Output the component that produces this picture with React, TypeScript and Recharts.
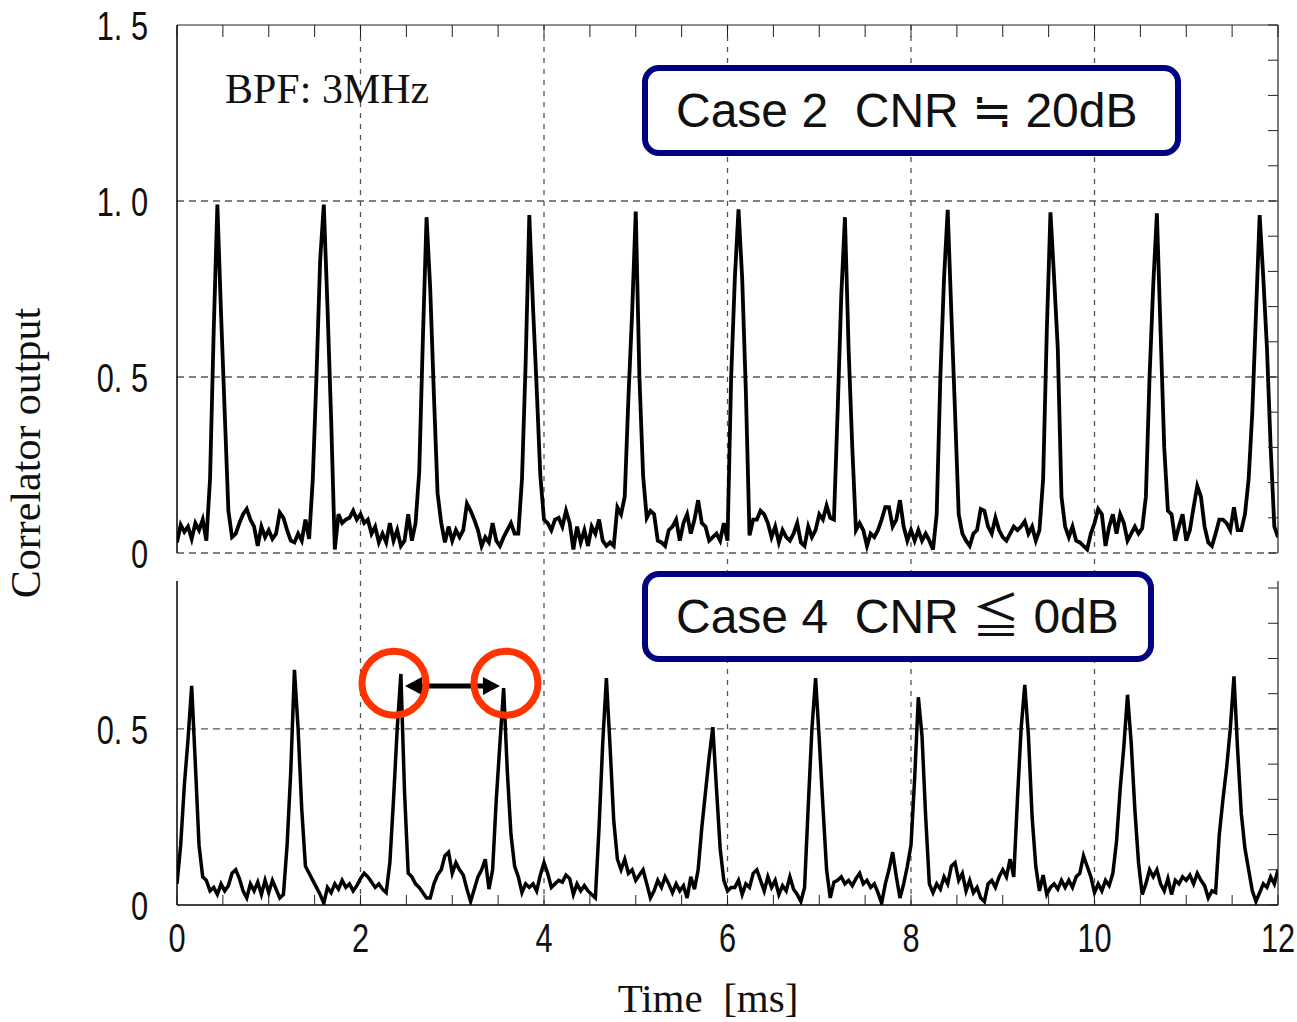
import React from "react";
import { LineChart, Line, XAxis, YAxis, ReferenceLine, ReferenceDot } from "recharts";

// sampling interval of the correlator trace
const SAMPLE_MS = 0.04;

// Case 2 (CNR ~ 20dB), one row per ms
const case2Output = [
  0.03, 0.08, 0.06, 0.075, 0.04, 0.085, 0.065, 0.095, 0.035, 0.21, 0.63, 0.99, 0.68, 0.40, 0.12, 0.045, 0.055, 0.085, 0.11, 0.125, 0.095, 0.075, 0.02, 0.075, 0.045,
  0.065, 0.04, 0.055, 0.115, 0.10, 0.065, 0.035, 0.03, 0.055, 0.035, 0.095, 0.04, 0.21, 0.5, 0.83, 0.99, 0.70, 0.38, 0.01, 0.11, 0.085, 0.095, 0.10, 0.12, 0.095,
  0.11, 0.085, 0.095, 0.055, 0.075, 0.03, 0.055, 0.03, 0.085, 0.035, 0.065, 0.02, 0.035, 0.11, 0.035, 0.085, 0.23, 0.61, 0.954, 0.75, 0.45, 0.17, 0.085, 0.03, 0.075,
  0.035, 0.065, 0.045, 0.065, 0.14, 0.12, 0.095, 0.065, 0.02, 0.045, 0.03, 0.085, 0.035, 0.02, 0.045, 0.065, 0.085, 0.055, 0.055, 0.21, 0.54, 0.96, 0.70, 0.47, 0.22,
  0.095, 0.085, 0.065, 0.095, 0.10, 0.075, 0.12, 0.085, 0.01, 0.075, 0.03, 0.065, 0.02, 0.075, 0.055, 0.095, 0.035, 0.02, 0.03, 0.02, 0.13, 0.11, 0.16, 0.44, 0.68,
  0.97, 0.5, 0.22, 0.10, 0.12, 0.11, 0.035, 0.03, 0.02, 0.065, 0.075, 0.095, 0.035, 0.085, 0.11, 0.055, 0.095, 0.15, 0.085, 0.075, 0.035, 0.045, 0.055, 0.035, 0.085,
  0.035, 0.50, 0.78, 0.976, 0.78, 0.46, 0.05, 0.095, 0.095, 0.12, 0.11, 0.085, 0.045, 0.075, 0.03, 0.065, 0.045, 0.035, 0.055, 0.085, 0.03, 0.02, 0.075, 0.045, 0.065,
  0.11, 0.095, 0.135, 0.10, 0.095, 0.40, 0.73, 0.954, 0.58, 0.30, 0.065, 0.085, 0.065, 0.02, 0.055, 0.045, 0.065, 0.095, 0.13, 0.13, 0.075, 0.095, 0.15, 0.075, 0.035,
  0.065, 0.035, 0.065, 0.035, 0.055, 0.035, 0.01, 0.11, 0.50, 0.78, 0.975, 0.68, 0.40, 0.11, 0.055, 0.035, 0.02, 0.055, 0.065, 0.125, 0.12, 0.075, 0.055, 0.10, 0.065,
  0.045, 0.035, 0.055, 0.075, 0.065, 0.075, 0.09, 0.055, 0.075, 0.035, 0.065, 0.21, 0.63, 0.968, 0.78, 0.58, 0.16, 0.075, 0.045, 0.075, 0.035, 0.03, 0.02, 0.01, 0.055,
  0.085, 0.125, 0.11, 0.02, 0.075, 0.11, 0.055, 0.11, 0.085, 0.035, 0.055, 0.075, 0.055, 0.07, 0.16, 0.50, 0.76, 0.965, 0.63, 0.30, 0.12, 0.11, 0.035, 0.075, 0.11,
  0.035, 0.065, 0.13, 0.19, 0.16, 0.075, 0.03, 0.02, 0.055, 0.095, 0.095, 0.085, 0.065, 0.13, 0.065, 0.065, 0.11, 0.21, 0.40, 0.68, 0.96, 0.78, 0.58, 0.30, 0.075,
  0.045,
];

// Case 4 (CNR <= 0dB)
const case4Output = [
  0.06, 0.17, 0.34, 0.47, 0.622, 0.40, 0.17, 0.08, 0.07, 0.04, 0.05, 0.03, 0.06, 0.04, 0.055, 0.09, 0.10, 0.075, 0.04, 0.02, 0.06, 0.04, 0.065, 0.03, 0.07,
  0.035, 0.07, 0.045, 0.02, 0.03, 0.17, 0.38, 0.668, 0.50, 0.27, 0.11, 0.09, 0.07, 0.05, 0.03, 0.005, 0.05, 0.035, 0.06, 0.045, 0.07, 0.05, 0.06, 0.04, 0.055,
  0.075, 0.09, 0.08, 0.065, 0.05, 0.06, 0.045, 0.035, 0.12, 0.30, 0.50, 0.656, 0.32, 0.09, 0.08, 0.06, 0.05, 0.035, 0.02, 0.02, 0.06, 0.085, 0.10, 0.14, 0.15,
  0.09, 0.12, 0.10, 0.085, 0.045, 0.01, 0.045, 0.08, 0.10, 0.13, 0.045, 0.10, 0.30, 0.46, 0.616, 0.38, 0.20, 0.11, 0.08, 0.035, 0.06, 0.05, 0.06, 0.04, 0.085,
  0.12, 0.09, 0.05, 0.06, 0.07, 0.065, 0.085, 0.075, 0.03, 0.06, 0.04, 0.055, 0.04, 0.03, 0.02, 0.22, 0.46, 0.644, 0.45, 0.24, 0.13, 0.10, 0.13, 0.09, 0.10,
  0.07, 0.085, 0.10, 0.06, 0.02, 0.04, 0.07, 0.05, 0.08, 0.06, 0.035, 0.06, 0.04, 0.055, 0.02, 0.08, 0.045, 0.10, 0.22, 0.32, 0.42, 0.505, 0.33, 0.16, 0.07,
  0.04, 0.05, 0.05, 0.07, 0.03, 0.06, 0.05, 0.09, 0.10, 0.07, 0.04, 0.08, 0.05, 0.07, 0.03, 0.055, 0.04, 0.08, 0.045, 0.03, 0.01, 0.05, 0.28, 0.50, 0.644,
  0.47, 0.28, 0.10, 0.02, 0.065, 0.07, 0.08, 0.06, 0.07, 0.055, 0.075, 0.09, 0.06, 0.07, 0.05, 0.06, 0.035, 0.005, 0.06, 0.10, 0.15, 0.08, 0.02, 0.06, 0.11,
  0.17, 0.36, 0.59, 0.48, 0.25, 0.06, 0.035, 0.06, 0.045, 0.08, 0.06, 0.11, 0.12, 0.07, 0.09, 0.04, 0.07, 0.035, 0.05, 0.02, 0.01, 0.06, 0.07, 0.05, 0.08,
  0.10, 0.08, 0.13, 0.08, 0.30, 0.50, 0.625, 0.48, 0.25, 0.11, 0.04, 0.085, 0.03, 0.05, 0.06, 0.045, 0.07, 0.05, 0.07, 0.05, 0.08, 0.09, 0.14, 0.11, 0.08,
  0.035, 0.06, 0.04, 0.07, 0.055, 0.09, 0.18, 0.33, 0.45, 0.597, 0.46, 0.27, 0.12, 0.03, 0.06, 0.10, 0.08, 0.10, 0.06, 0.04, 0.075, 0.03, 0.07, 0.06, 0.08,
  0.07, 0.085, 0.06, 0.09, 0.07, 0.055, 0.02, 0.04, 0.035, 0.20, 0.30, 0.39, 0.50, 0.649, 0.44, 0.26, 0.16, 0.10, 0.04, 0.01, 0.035, 0.06, 0.05, 0.08, 0.06,
  0.10,
];

const majorTimeTicks = [0, 2, 4, 6, 8, 10, 12];
const minorTimeTicks = [0, 0.5, 1, 1.5, 2, 2.5, 3, 3.5, 4, 4.5, 5, 5.5, 6, 6.5, 7, 7.5, 8, 8.5, 9, 9.5, 10, 10.5, 11, 11.5, 12];
const gridTimes = [2, 4, 6, 8, 10];
const upperLevelTicks = [0, 0.5, 1.0, 1.5];
const upperFineTicks = [0, 0.1, 0.2, 0.3, 0.4, 0.5, 0.6, 0.7, 0.8, 0.9, 1.0, 1.1, 1.2, 1.3, 1.4, 1.5];
const upperGridLevels = [0, 0.5, 1.0];
const lowerLevelTicks = [0, 0.5];
const lowerFineTicks = [0, 0.1, 0.2, 0.3, 0.4, 0.5, 0.6, 0.7, 0.8, 0.9];
const lowerGridLevels = [0.5];

// the two marked peaks and the arrow between them (Case 4)
const markedPeaks = [
  { t: 2.365, v: 0.63 },
  { t: 3.585, v: 0.63 },
];
const arrowSpan = [
  { x: 2.485, y: 0.622 },
  { x: 3.52, y: 0.622 },
];

const toRows = (values: number[]) =>
  values.map((v, i) => ({ t: Math.round(i * SAMPLE_MS * 100) / 100, v }));

const upperRows = toRows(case2Output);
const lowerRows = toRows(case4Output);

const FONT_TICK = '"Liberation Sans", Arial, sans-serif';
const FONT_SERIF = '"Liberation Serif", "Times New Roman", serif';
const FONT_SANS = '"Liberation Sans", Arial, "Noto Sans CJK JP", sans-serif';
const FRAME = "#222";
const GRID = "#555";
const NAVY = "#000080";

const formatLevel = (v: number) => (v === 0 ? "0" : v.toFixed(1).replace(".", ". "));

const LevelTick = (props: any) => {
  const { x, y, payload } = props;
  return (
    <text
      transform={`translate(${x - 29},${y + 15}) scale(0.75,1)`}
      textAnchor="end"
      fontFamily={FONT_TICK}
      fontSize={41}
      fill="#111"
      style={{ whiteSpace: "pre" }}
    >
      {formatLevel(payload.value)}
    </text>
  );
};

const RightTick = (props: any) => {
  const { x, y } = props;
  return <line x1={x} x2={x - 10} y1={y} y2={y} stroke={FRAME} strokeWidth={1} />;
};

const TopTick = (props: any) => {
  const { x, y } = props;
  return <line x1={x} x2={x} y1={y} y2={y + 12} stroke={FRAME} strokeWidth={1} />;
};

const BottomTick = (props: any) => {
  const { x, y, payload } = props;
  const isMajor = majorTimeTicks.includes(payload.value);
  return (
    <g>
      <line x1={x} x2={x} y1={y} y2={y - 10} stroke={FRAME} strokeWidth={1} />
      {isMajor && (
        <text
          transform={`translate(${x},${y + 47}) scale(0.75,1)`}
          textAnchor="middle"
          fontFamily={FONT_TICK}
          fontSize={41}
          fill="#111"
        >
          {payload.value}
        </text>
      )}
    </g>
  );
};

const DoubleArrow = (p: any) => {
  const { x1, y1, x2, y2 } = p;
  const head = 17;
  const half = 9;
  return (
    <g>
      <line x1={x1 + head - 2} y1={y1} x2={x2 - head + 2} y2={y2} stroke="#000" strokeWidth={5} />
      <polygon points={`${x1},${y1} ${x1 + head},${y1 - half} ${x1 + head},${y1 + half}`} fill="#000" />
      <polygon points={`${x2},${y2} ${x2 - head},${y2 - half} ${x2 - head},${y2 + half}`} fill="#000" />
    </g>
  );
};

const W = 1297;
const H = 1022;
// axes get a 1px box; the plot edges land on x 177..1278
const AX = 1;

const UpperPanel = () => (
  <LineChart width={W} height={H} data={upperRows} margin={{ top: 25 - AX, right: 19 - AX, bottom: H - 553, left: 177 - AX }}>
    <XAxis
      xAxisId="t"
      dataKey="t"
      type="number"
      orientation="top"
      domain={[0, 12]}
      allowDataOverflow
      ticks={minorTimeTicks}
      interval={0}
      height={AX}
      tickSize={0}
      tickMargin={0}
      tickLine={false}
      axisLine={{ stroke: FRAME, strokeWidth: 1.2 }}
      tick={TopTick}
    />
    <YAxis
      yAxisId="v"
      type="number"
      domain={[0, 1.5]}
      allowDataOverflow
      ticks={upperLevelTicks}
      interval={0}
      width={AX}
      tickSize={0}
      tickMargin={0}
      tickLine={false}
      axisLine={{ stroke: "#000", strokeWidth: 1.5 }}
      tick={LevelTick}
    />
    <YAxis
      yAxisId="fine"
      orientation="right"
      type="number"
      domain={[0, 1.5]}
      allowDataOverflow
      ticks={upperFineTicks}
      interval={0}
      width={AX}
      tickSize={0}
      tickMargin={0}
      tickLine={false}
      axisLine={{ stroke: FRAME, strokeWidth: 1.2 }}
      tick={RightTick}
    />
    {gridTimes.map((t) => (
      <ReferenceLine key={`vx${t}`} xAxisId="t" yAxisId="v" x={t} stroke={GRID} strokeWidth={1.3} strokeDasharray="5 6" />
    ))}
    {upperGridLevels.map((v) => (
      <ReferenceLine key={`hy${v}`} xAxisId="t" yAxisId="v" y={v} stroke={GRID} strokeWidth={1.3} strokeDasharray="7 5" />
    ))}
    <Line
      xAxisId="t"
      yAxisId="v"
      type="linear"
      dataKey="v"
      stroke="#000"
      strokeWidth={3.8}
      dot={false}
      activeDot={false}
      isAnimationActive={false}
    />
  </LineChart>
);

const LowerPanel = () => (
  <LineChart width={W} height={H} data={lowerRows} margin={{ top: 581, right: 19 - AX, bottom: H - 905 - AX, left: 177 - AX }}>
    <XAxis
      xAxisId="t"
      dataKey="t"
      type="number"
      orientation="bottom"
      domain={[0, 12]}
      allowDataOverflow
      ticks={minorTimeTicks}
      interval={0}
      height={AX}
      tickSize={0}
      tickMargin={0}
      tickLine={false}
      axisLine={{ stroke: "#000", strokeWidth: 1.5 }}
      tick={BottomTick}
    />
    <YAxis
      yAxisId="v"
      type="number"
      domain={[0, 0.92]}
      allowDataOverflow
      ticks={lowerLevelTicks}
      interval={0}
      width={AX}
      tickSize={0}
      tickMargin={0}
      tickLine={false}
      axisLine={{ stroke: "#000", strokeWidth: 1.5 }}
      tick={LevelTick}
    />
    <YAxis
      yAxisId="fine"
      orientation="right"
      type="number"
      domain={[0, 0.92]}
      allowDataOverflow
      ticks={lowerFineTicks}
      interval={0}
      width={AX}
      tickSize={0}
      tickMargin={0}
      tickLine={false}
      axisLine={{ stroke: FRAME, strokeWidth: 1.2 }}
      tick={RightTick}
    />
    {gridTimes.map((t) => (
      <ReferenceLine
        key={`vx${t}`}
        xAxisId="t"
        yAxisId="v"
        segment={[{ x: t, y: 0 }, { x: t, y: 1.0 }]}
        ifOverflow="visible"
        stroke={GRID}
        strokeWidth={1.3}
        strokeDasharray="5 6"
      />
    ))}
    {lowerGridLevels.map((v) => (
      <ReferenceLine key={`hy${v}`} xAxisId="t" yAxisId="v" y={v} stroke={GRID} strokeWidth={1.3} strokeDasharray="7 5" />
    ))}
    <Line
      xAxisId="t"
      yAxisId="v"
      type="linear"
      dataKey="v"
      stroke="#000"
      strokeWidth={3.5}
      dot={false}
      activeDot={false}
      isAnimationActive={false}
    />
    {markedPeaks.map((m) => (
      <ReferenceDot
        key={`c${m.t}`}
        xAxisId="t"
        yAxisId="v"
        x={m.t}
        y={m.v}
        r={32}
        fill="none"
        stroke="#ff3300"
        strokeWidth={7}
        ifOverflow="visible"
      />
    ))}
    <ReferenceLine
      xAxisId="t"
      yAxisId="v"
      segment={arrowSpan}
      ifOverflow="visible"
      shape={DoubleArrow}
    />
  </LineChart>
);

const Annotations = () => (
  <svg width={W} height={H} style={{ position: "absolute", left: 0, top: 0, pointerEvents: "none" }}>
    <text x={225} y={103} fontFamily={FONT_SERIF} fontSize={42} fill="#111">
      BPF: 3MHz
    </text>
    <rect x={645} y={68} width={533} height={85} rx={14} ry={14} fill="#fff" stroke={NAVY} strokeWidth={6} />
    <text x={676} y={127} fontFamily={FONT_SANS} fontSize={48} fill="#111" style={{ whiteSpace: "pre" }}>
      {"Case 2  CNR ≒ 20dB"}
    </text>
    <rect x={645} y={574} width={506} height={85} rx={14} ry={14} fill="#fff" stroke={NAVY} strokeWidth={6} />
    <text x={676} y={633} fontFamily={FONT_SANS} fontSize={48} fill="#111" style={{ whiteSpace: "pre" }}>
      {"Case 4  CNR ≦ 0dB"}
    </text>
    <text
      transform="translate(40,453) rotate(-90)"
      textAnchor="middle"
      fontFamily={FONT_SERIF}
      fontSize={42}
      fill="#111"
    >
      Correlator output
    </text>
    <text x={708} y={1012} textAnchor="middle" fontFamily={FONT_SERIF} fontSize={41} fill="#111" style={{ whiteSpace: "pre" }}>
      {"Time  [ms]"}
    </text>
  </svg>
);

const App = () => (
  <div style={{ position: "absolute", left: 0, top: 0, width: W, height: H, background: "#fff", overflow: "hidden" }}>
    <div style={{ position: "absolute", left: 0, top: 0 }}>
      <UpperPanel />
    </div>
    <div style={{ position: "absolute", left: 0, top: 0 }}>
      <LowerPanel />
    </div>
    <Annotations />
  </div>
);

export default App;
